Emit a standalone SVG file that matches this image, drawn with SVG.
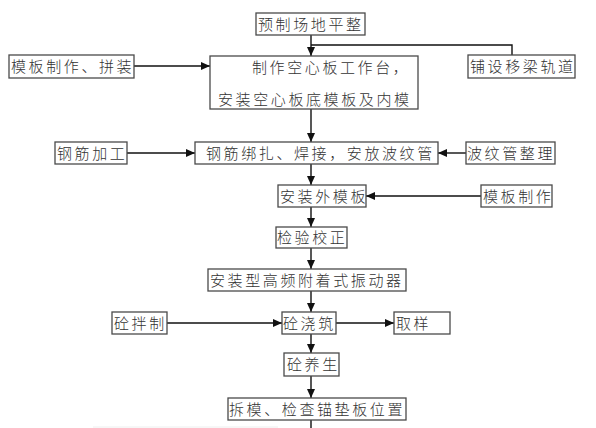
<svg xmlns="http://www.w3.org/2000/svg" width="596" height="428" viewBox="0 0 596 428">
<defs>
<style>
.box{fill:#fff;stroke:#4a4a4a;stroke-width:1.3}
.t{font-family:"Noto Sans CJK SC","Noto Sans CJK JP",sans-serif;font-size:15px;font-weight:300;fill:#333;letter-spacing:2.6px}
.c{fill:none;stroke:#111;stroke-width:1.4}
</style>
<marker id="a" markerWidth="9" markerHeight="8" refX="9" refY="4" orient="auto" markerUnits="userSpaceOnUse">
<path d="M0,0 L9,4 L0,8 Z" fill="#111"/>
</marker>
</defs>
<rect width="596" height="428" fill="#fff"/>
<line x1="93" y1="427" x2="278" y2="427" stroke="#eeeeee" stroke-width="1"/>
<g id="connectors">
<line class="c" x1="311" y1="35" x2="311" y2="56" marker-end="url(#a)"/>
<polyline class="c" points="311,45 512,45 512,55"/>
<line class="c" x1="134" y1="66" x2="210" y2="66" marker-end="url(#a)"/>
<line class="c" x1="311" y1="109" x2="311" y2="142" marker-end="url(#a)"/>
<line class="c" x1="127" y1="153" x2="195" y2="153" marker-end="url(#a)"/>
<line class="c" x1="466" y1="153" x2="438" y2="153" marker-end="url(#a)"/>
<line class="c" x1="311" y1="164" x2="311" y2="185" marker-end="url(#a)"/>
<line class="c" x1="481" y1="196" x2="366" y2="196" marker-end="url(#a)"/>
<line class="c" x1="311" y1="207" x2="311" y2="227" marker-end="url(#a)"/>
<line class="c" x1="311" y1="248" x2="311" y2="269" marker-end="url(#a)"/>
<line class="c" x1="311" y1="291" x2="311" y2="312" marker-end="url(#a)"/>
<line class="c" x1="167" y1="323" x2="282" y2="323" marker-end="url(#a)"/>
<line class="c" x1="334" y1="323" x2="394" y2="323" marker-end="url(#a)"/>
<line class="c" x1="311" y1="334" x2="311" y2="353" marker-end="url(#a)"/>
<line class="c" x1="311" y1="376" x2="311" y2="398" marker-end="url(#a)"/>
<line class="c" x1="311" y1="420" x2="311" y2="428"/>
</g>
<g id="n1"><rect class="box" x="256" y="13" width="109" height="22"/><text class="t" x="258" y="30">预制场地平整</text></g>
<g id="n2"><rect class="box" x="210" y="56" width="208" height="53"/><text class="t" x="252" y="73">制作空心板工作台，</text><text class="t" x="218" y="105">安装空心板底模板及内模</text></g>
<g id="n3"><rect class="box" x="9" y="55" width="125" height="23"/><text class="t" x="11" y="72">模板制作、拼装</text></g>
<g id="n4"><rect class="box" x="468" y="55" width="107" height="23"/><text class="t" x="470" y="72">铺设移梁轨道</text></g>
<g id="n5"><rect class="box" x="55" y="142" width="72" height="22"/><text class="t" x="57" y="159">钢筋加工</text></g>
<g id="n6"><rect class="box" x="195" y="142" width="243" height="22"/><text class="t" x="206" y="159">钢筋绑扎、焊接，安放波纹管</text></g>
<g id="n7"><rect class="box" x="466" y="142" width="89" height="22"/><text class="t" x="467" y="159">波纹管整理</text></g>
<g id="n8"><rect class="box" x="278" y="185" width="88" height="22"/><text class="t" x="280" y="202">安装外模板</text></g>
<g id="n9"><rect class="box" x="481" y="185" width="71" height="22"/><text class="t" x="483" y="202">模板制作</text></g>
<g id="n10"><rect class="box" x="276" y="227" width="71" height="21"/><text class="t" x="277" y="243">检验校正</text></g>
<g id="n11"><rect class="box" x="208" y="269" width="198" height="22"/><text class="t" x="210" y="286">安装型高频附着式振动器</text></g>
<g id="n12"><rect class="box" x="112" y="312" width="55" height="22"/><text class="t" x="114" y="329">砼拌制</text></g>
<g id="n13"><rect class="box" x="282" y="312" width="54" height="22"/><text class="t" x="283" y="329">砼浇筑</text></g>
<g id="n14"><rect class="box" x="394" y="312" width="56" height="22"/><text class="t" x="396" y="329">取样</text></g>
<g id="n15"><rect class="box" x="284" y="353" width="55" height="23"/><text class="t" x="287" y="370">砼养生</text></g>
<g id="n16"><rect class="box" x="228" y="398" width="178" height="22"/><text class="t" x="229" y="415">拆模、检查锚垫板位置</text></g>
</svg>
